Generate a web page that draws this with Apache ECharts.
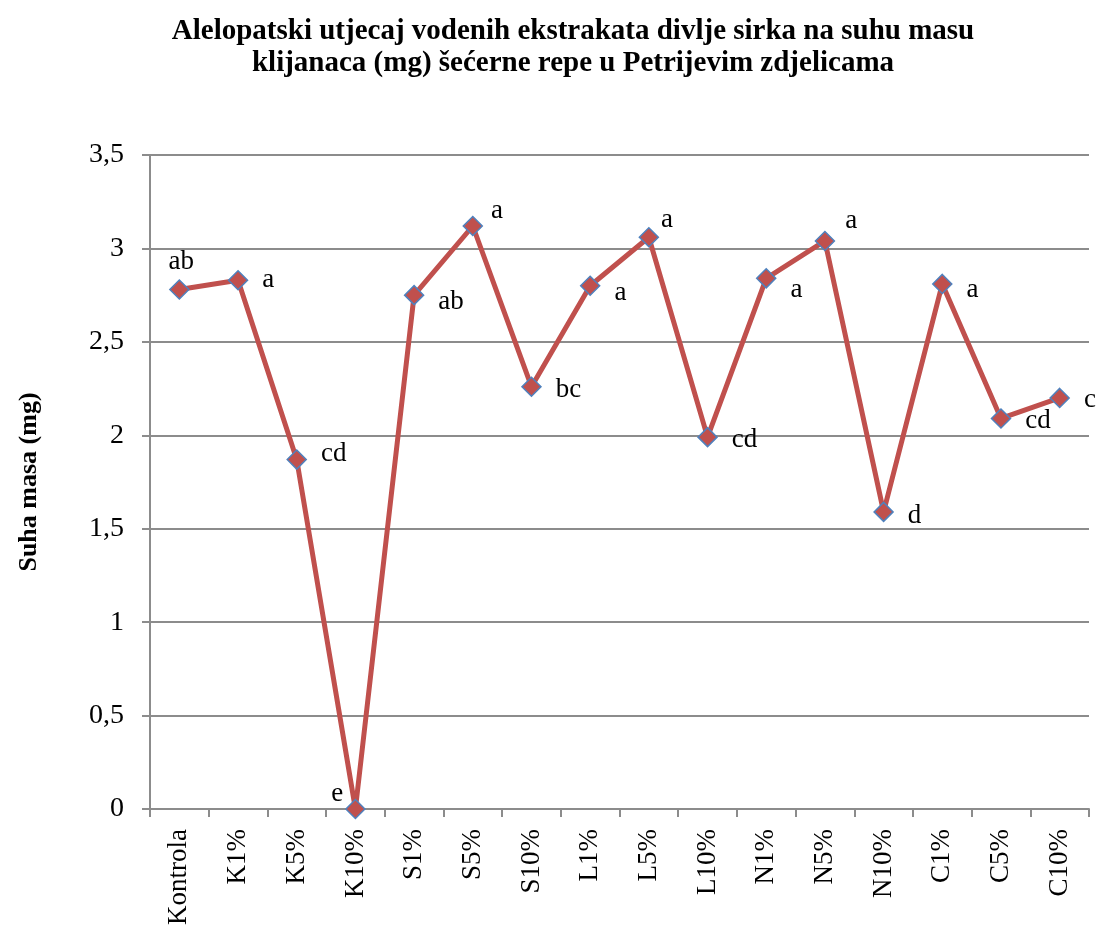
<!DOCTYPE html>
<html>
<head>
<meta charset="utf-8">
<script src="https://cdn.jsdelivr.net/npm/echarts@6/dist/echarts.min.js"></script>
<style>
  html, body { margin: 0; padding: 0; background: #fff; }
  #main { width: 1099px; height: 928px; }
</style>
</head>
<body>
<div id="main"></div>
<script>
var categories = ['Kontrola', 'K1%', 'K5%', 'K10%', 'S1%', 'S5%', 'S10%', 'L1%', 'L5%', 'L10%', 'N1%', 'N5%', 'N10%', 'C1%', 'C5%', 'C10%'];
var values = [2.78, 2.83, 1.87, 0, 2.75, 3.12, 2.26, 2.80, 3.06, 1.99, 2.84, 3.04, 1.59, 2.81, 2.09, 2.20];
var letters = ['ab', 'a', 'cd', 'e', 'ab', 'a', 'bc', 'a', 'a', 'cd', 'a', 'a', 'd', 'a', 'cd', 'c'];
var yTicks = [0, 0.5, 1, 1.5, 2, 2.5, 3, 3.5];

var font = '"Liberation Serif", "Times New Roman", serif';

// where each letter sits next to its marker
var labelPos = {
    0: { position: 'top', distance: 4, offset: [2, 0] },
    3: { position: 'left', distance: 2, offset: [0, -15] },
    5: { position: 'right', distance: 8, offset: [0, -15] },
    8: { position: 'right', distance: 2, offset: [0, -17] },
    11: { position: 'right', distance: 10, offset: [0, -20] }
};
var labelOffset = [[0, 0], [0, 0], [0, -6], [0, 0], [0, 7], [0, 0], [0, 3], [0, 7], [0, 0], [0, 3], [0, 12], [0, 0], [0, 4], [0, 6], [0, 2], [0, 2]];

var seriesData = values.map(function (v, i) {
    var lp = labelPos[i] || { position: 'right', distance: 14, offset: labelOffset[i] };
    return {
        value: v,
        label: {
            show: true,
            formatter: letters[i],
            position: lp.position,
            distance: lp.distance,
            offset: lp.offset
        }
    };
});

var myChart = echarts.init(document.getElementById('main'));
var option = {
    backgroundColor: '#fff',
    animation: false,
    title: {
        text: 'Alelopatski utjecaj vodenih ekstrakata divlje sirka na suhu masu\nklijanaca (mg) šećerne repe u Petrijevim zdjelicama',
        left: 568,
        top: 11,
        textAlign: 'center',
        textStyle: {
            fontFamily: font,
            fontSize: 29,
            fontWeight: 'bold',
            color: '#000',
            lineHeight: 32
        }
    },
    grid: {
        left: 150,
        right: 10,
        top: 155,
        bottom: 119,
        containLabel: false
    },
    xAxis: {
        type: 'category',
        data: categories,
        boundaryGap: true,
        axisLine: { lineStyle: { color: '#8c8c8c', width: 2 } },
        axisTick: { show: true, length: 8, inside: false, alignWithLabel: false, lineStyle: { color: '#8c8c8c', width: 2 } },
        axisLabel: {
            rotate: 90,
            margin: 20,
            interval: 0,
            fontFamily: font,
            fontSize: 27,
            color: '#000'
        },
        splitLine: { show: false }
    },
    yAxis: {
        type: 'value',
        min: 0,
        max: 3.5,
        interval: 0.5,
        name: 'Suha masa (mg)',
        nameLocation: 'middle',
        nameGap: 108,
        nameRotate: 90,
        nameTextStyle: {
            fontFamily: font,
            fontSize: 26,
            fontWeight: 'bold',
            color: '#000',
            padding: [0, 0, 0, 0]
        },
        axisLine: { show: true, lineStyle: { color: '#8c8c8c', width: 2 } },
        axisTick: { show: true, length: 8, lineStyle: { color: '#8c8c8c', width: 2 } },
        axisLabel: {
            margin: 26,
            fontFamily: font,
            fontSize: 28,
            color: '#000',
            formatter: function (v) {
                return yTicks.indexOf(v) >= 0 ? String(v).replace('.', ',') : '';
            }
        },
        splitLine: { show: true, lineStyle: { color: '#8c8c8c', width: 2 } }
    },
    series: [{
        type: 'line',
        data: seriesData,
        symbol: 'diamond',
        symbolSize: 19,
        lineStyle: { color: '#C0504D', width: 5 },
        itemStyle: { color: '#C0504D', borderColor: '#4F81BD', borderWidth: 1.5 },
        label: {
            fontFamily: font,
            fontSize: 27,
            color: '#000'
        },
        z: 3
    }]
};
myChart.setOption(option);
</script>
</body>
</html>
